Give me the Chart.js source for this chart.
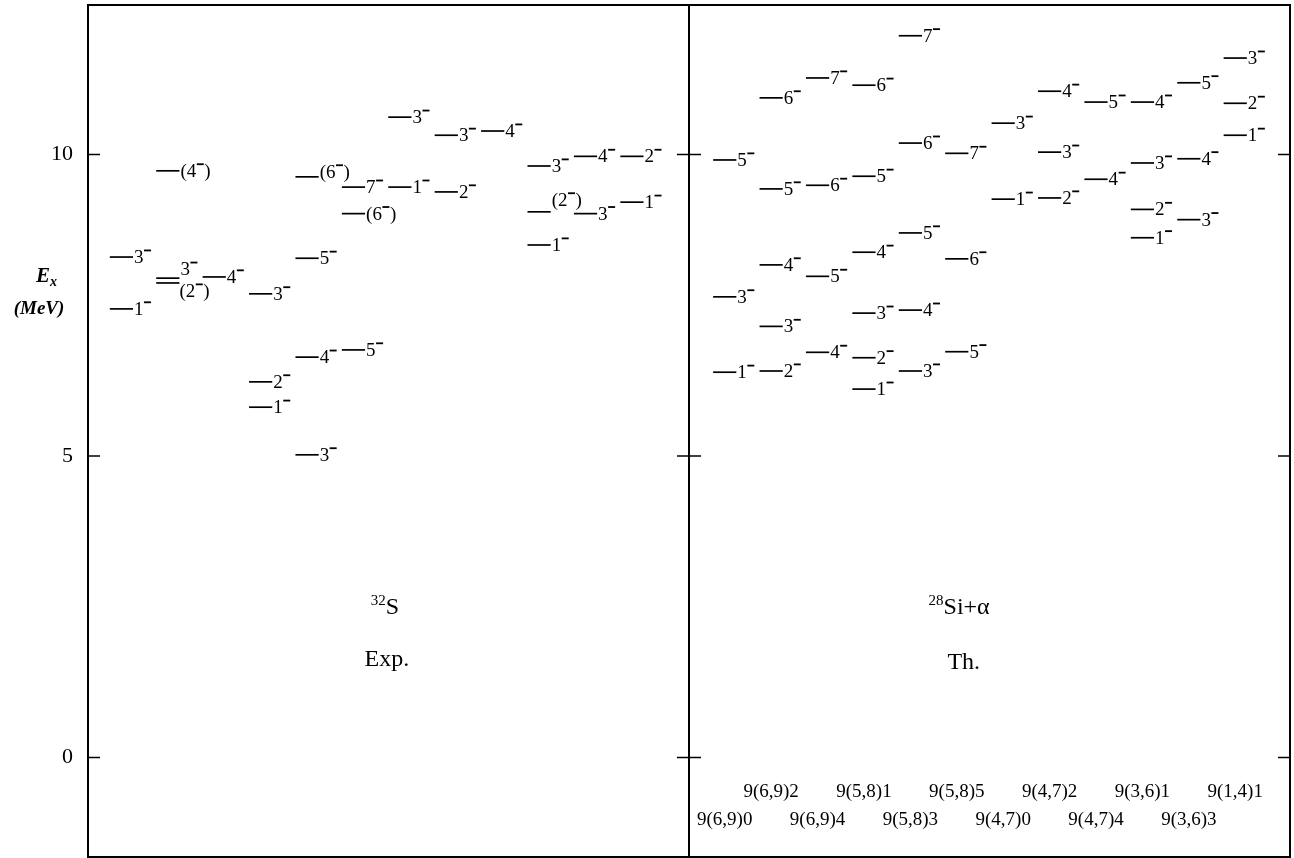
<!DOCTYPE html>
<html>
<head>
<meta charset="utf-8">
<title>32S levels</title>
<script src="https://cdn.jsdelivr.net/npm/chart.js@4.4.1/dist/chart.umd.min.js"></script>
<style>
    html, body { margin: 0; padding: 0; background: #fff; }
    #wrap { width: 1294px; height: 858px; }
</style>
</head>
<body>
<div id="wrap"><canvas id="levelChart" width="1294" height="858"></canvas></div>
<script>
// Experimental levels (column, energy MeV, spin-parity)
const expCol = [0, 0, 1, 1, 1, 2, 3, 3, 3, 4, 4, 4, 4, 5, 5, 5, 6, 6, 7, 7, 8, 9, 9, 9, 10, 10, 11, 11];
const expE = [8.30, 7.44, 9.73, 7.95, 7.87, 7.97, 7.69, 6.23, 5.81, 9.63, 8.28, 6.64, 5.02,
    9.46, 9.02, 6.76, 10.62, 9.46, 10.32, 9.38, 10.39, 9.81, 9.05, 8.50, 9.97, 9.02, 9.97, 9.21];
const expJ = ['3⁻', '1⁻', '(4⁻)', '3⁻', '(2⁻)', '4⁻', '3⁻', '2⁻', '1⁻', '(6⁻)', '5⁻', '4⁻', '3⁻',
    '7⁻', '(6⁻)', '5⁻', '3⁻', '1⁻', '3⁻', '2⁻', '4⁻', '3⁻', '(2⁻)', '1⁻', '4⁻', '3⁻', '2⁻', '1⁻'];

// Theoretical levels, 28Si+alpha (column = configuration index)
const thCol = [0, 0, 0, 1, 1, 1, 1, 1, 2, 2, 2, 2, 3, 3, 3, 3, 3, 3, 4, 4, 4, 4, 4, 5, 5, 5,
    6, 6, 7, 7, 7, 8, 8, 9, 9, 9, 9, 10, 10, 10, 11, 11, 11];
const thE = [9.91, 7.64, 6.39, 10.94, 9.43, 8.17, 7.15, 6.41, 11.27, 9.49, 7.98, 6.72,
    11.15, 9.64, 8.38, 7.37, 6.63, 6.11, 11.97, 10.19, 8.70, 7.42, 6.41, 10.02, 8.27, 6.73,
    10.52, 9.26, 11.05, 10.04, 9.28, 10.87, 9.59, 10.87, 9.86, 9.09, 8.62, 11.19, 9.93, 8.92,
    11.60, 10.85, 10.32];
const thJ = ['5⁻', '3⁻', '1⁻', '6⁻', '5⁻', '4⁻', '3⁻', '2⁻', '7⁻', '6⁻', '5⁻', '4⁻',
    '6⁻', '5⁻', '4⁻', '3⁻', '2⁻', '1⁻', '7⁻', '6⁻', '5⁻', '4⁻', '3⁻', '7⁻', '6⁻', '5⁻',
    '3⁻', '1⁻', '4⁻', '3⁻', '2⁻', '5⁻', '4⁻', '4⁻', '3⁻', '2⁻', '1⁻', '5⁻', '4⁻', '3⁻',
    '3⁻', '2⁻', '1⁻'];

const configLabels = ['9(6,9)0', '9(6,9)2', '9(6,9)4', '9(5,8)1', '9(5,8)3', '9(5,8)5',
    '9(4,7)0', '9(4,7)2', '9(4,7)4', '9(3,6)1', '9(3,6)3', '9(1,4)1'];

const yTicks = [0, 5, 10];

document.addEventListener('DOMContentLoaded', () => {
    const TH_OFFSET = 13;      // first theory column
    const DIVIDER = 12.48;     // x value of the middle line
    const LEVEL_W = 0.5;       // level line length in column units
    const FONT = '"Liberation Serif", "Times New Roman", serif';

    // a few labels are shifted off their line (px)
    const labelShift = {
        'exp-3': { dx: 0, dy: -9 },
        'exp-4': { dx: -1, dy: 8 },
        'exp-9': { dx: 0, dy: -5 },
        'exp-22': { dx: 0, dy: -12 }
    };

    const levels = [];
    expCol.forEach((c, i) => levels.push({ key: 'exp-' + i, x: c, e: expE[i], j: expJ[i] }));
    thCol.forEach((c, i) => levels.push({ key: 'th-' + i, x: TH_OFFSET + c, e: thE[i], j: thJ[i] }));

    const datasets = levels.map(l => ({
        data: [{ x: l.x, y: l.e }, { x: l.x + LEVEL_W, y: l.e }],
        borderColor: '#000',
        borderWidth: 1.7,
        pointRadius: 0,
        fill: false
    }));

    // spin label like 3⁻ or (4⁻): superscript minus drawn as a short dash
    function drawJ(ctx, text, x, y) {
        ctx.font = '19px ' + FONT;
        ctx.textBaseline = 'middle';
        ctx.textAlign = 'left';
        let cx = x;
        for (const ch of text) {
            if (ch === '⁻') {
                ctx.fillRect(cx + 0.5, y - 7.5, 7, 1.8);
                cx += 8;
            } else {
                ctx.fillText(ch, cx, y + 1);
                cx += ctx.measureText(ch).width;
            }
        }
    }

    const decor = {
        id: 'decor',
        afterDatasetsDraw(chart) {
            const ctx = chart.ctx;
            const xs = chart.scales.x;
            const ys = chart.scales.y;
            const a = chart.chartArea;
            ctx.save();
            ctx.fillStyle = '#000';
            ctx.strokeStyle = '#000';

            // frame and divider
            ctx.lineWidth = 2;
            ctx.strokeRect(a.left, a.top, a.right - a.left, a.bottom - a.top);
            const xd = xs.getPixelForValue(DIVIDER);
            ctx.beginPath();
            ctx.moveTo(xd, a.top);
            ctx.lineTo(xd, a.bottom);
            ctx.stroke();

            // inward ticks and tick labels
            ctx.lineWidth = 1.6;
            ctx.font = '22px ' + FONT;
            ctx.textAlign = 'right';
            ctx.textBaseline = 'middle';
            yTicks.forEach(v => {
                const py = ys.getPixelForValue(v);
                ctx.beginPath();
                ctx.moveTo(a.left, py); ctx.lineTo(a.left + 12, py);
                ctx.moveTo(xd - 12, py); ctx.lineTo(xd + 12, py);
                ctx.moveTo(a.right - 12, py); ctx.lineTo(a.right, py);
                ctx.stroke();
                ctx.fillText(String(v), a.left - 15, py);
            });

            // level labels
            levels.forEach(l => {
                const s = labelShift[l.key] || { dx: 0, dy: 0 };
                const px = xs.getPixelForValue(l.x + LEVEL_W) + 1 + s.dx;
                const py = ys.getPixelForValue(l.e) + s.dy;
                drawJ(ctx, l.j, px, py);
            });

            // configuration labels, two staggered rows
            ctx.font = '19px ' + FONT;
            ctx.textAlign = 'center';
            ctx.textBaseline = 'middle';
            configLabels.forEach((t, i) => {
                const px = xs.getPixelForValue(TH_OFFSET + i + LEVEL_W / 2);
                const py = ys.getPixelForValue(i % 2 === 0 ? -1.04 : -0.57);
                ctx.fillText(t, px, py);
            });

            // panel captions
            function sup(base, supTxt, cx, cy) {
                ctx.font = '24px ' + FONT;
                const wb = ctx.measureText(base).width;
                ctx.font = '15px ' + FONT;
                const ws = ctx.measureText(supTxt).width;
                const x0 = cx - (wb + ws) / 2;
                ctx.textAlign = 'left';
                ctx.fillText(supTxt, x0, cy - 7);
                ctx.font = '24px ' + FONT;
                ctx.fillText(base, x0 + ws, cy);
            }
            sup('S', '32', xs.getPixelForValue(5.93), ys.getPixelForValue(2.48));
            sup('Si+α', '28', xs.getPixelForValue(18.3), ys.getPixelForValue(2.48));
            ctx.font = '24px ' + FONT;
            ctx.textAlign = 'center';
            ctx.fillText('Exp.', xs.getPixelForValue(5.97), ys.getPixelForValue(1.62));
            ctx.fillText('Th.', xs.getPixelForValue(18.4), ys.getPixelForValue(1.58));

            // axis title E_x (MeV)
            ctx.font = 'bold italic 21px ' + FONT;
            ctx.textAlign = 'left';
            ctx.fillText('E', 36, 277);
            ctx.font = 'bold italic 14px ' + FONT;
            ctx.fillText('x', 50, 282);
            ctx.font = 'bold italic 19px ' + FONT;
            ctx.textAlign = 'center';
            ctx.fillText('(MeV)', 39, 309);
            ctx.restore();
        }
    };

    const ctx = document.getElementById('levelChart').getContext('2d');
    new Chart(ctx, {
        type: 'line',
        data: { datasets: datasets },
        options: {
            responsive: false,
            animation: false,
            layout: { padding: { top: 5, right: 4, bottom: 1, left: 88 } },
            plugins: {
                legend: { display: false },
                tooltip: { enabled: false }
            },
            scales: {
                x: { type: 'linear', min: -0.47, max: 25.43, display: false },
                y: { type: 'linear', min: -1.65, max: 12.48, display: false }
            }
        },
        plugins: [decor]
    });
});
</script>
</body>
</html>
